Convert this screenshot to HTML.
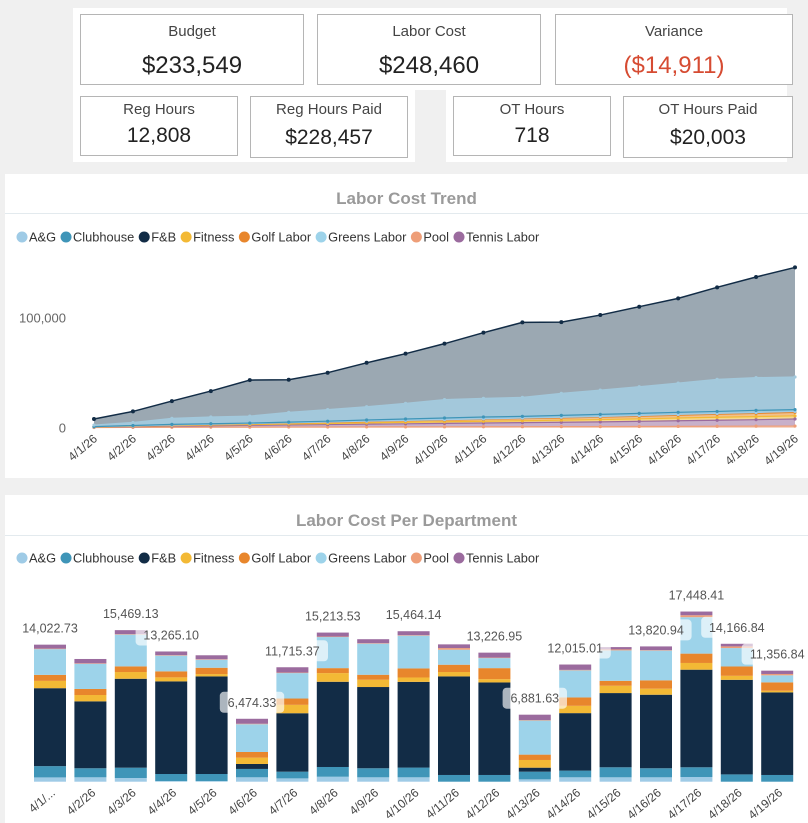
<!DOCTYPE html>
<html><head><meta charset="utf-8"><style>
body{margin:0;width:808px;height:823px;background:#f0f0f0;font-family:"Liberation Sans",sans-serif;overflow:hidden;position:relative}
.wbg{position:absolute;background:#fff}
.card{position:absolute;background:#fff;border:1px solid #b5b5b5;box-sizing:border-box;text-align:center;color:#333}
.card .t{font-size:15px;color:#444;margin-top:8px}
.card .v{font-size:24px;color:#222}
.panel{position:absolute;background:#fff;left:5px;width:803px}
.ptitle{position:absolute;width:100%;text-align:center;font-size:17px;color:#9a9a9a;font-weight:bold}
.sep{position:absolute;left:0;right:0;height:1px;background:#e3eaee}
svg text{font-family:"Liberation Sans",sans-serif}
</style></head><body>
<div class="wbg" style="left:73px;top:8px;width:714px;height:82px"></div>
<div class="wbg" style="left:73px;top:90px;width:342px;height:72px"></div>
<div class="wbg" style="left:446px;top:90px;width:341px;height:72px"></div>
<div class="card" style="left:80px;top:14px;width:224px;height:71px"><div class="t">Budget</div><div class="v" style="margin-top:12px">$233,549</div></div>
<div class="card" style="left:317px;top:14px;width:224px;height:71px"><div class="t">Labor Cost</div><div class="v" style="margin-top:12px">$248,460</div></div>
<div class="card" style="left:555px;top:14px;width:238px;height:71px"><div class="t">Variance</div><div class="v" style="margin-top:12px;color:#d64b32">($14,911)</div></div>
<div class="card" style="left:80px;top:96px;width:158px;height:60px"><div class="t" style="margin-top:4px">Reg Hours</div><div class="v" style="margin-top:6px;font-size:21px">12,808</div></div>
<div class="card" style="left:250px;top:96px;width:158px;height:62px"><div class="t" style="margin-top:4px">Reg Hours Paid</div><div class="v" style="margin-top:8px;font-size:21px">$228,457</div></div>
<div class="card" style="left:453px;top:96px;width:158px;height:60px"><div class="t" style="margin-top:4px">OT Hours</div><div class="v" style="margin-top:6px;font-size:21px">718</div></div>
<div class="card" style="left:623px;top:96px;width:170px;height:62px"><div class="t" style="margin-top:4px">OT Hours Paid</div><div class="v" style="margin-top:8px;font-size:21px">$20,003</div></div>

<div class="panel" style="top:174px;height:304px">
<div class="ptitle" style="top:15px">Labor Cost Trend</div>
<div class="sep" style="top:39px"></div>
</div>
<div class="panel" style="top:495px;height:328px">
<div class="ptitle" style="top:16px">Labor Cost Per Department</div>
<div class="sep" style="top:40px"></div>
</div>
<svg id="chart" width="808" height="823" style="position:absolute;left:0;top:0"></svg>
<script>
const dates=["4/1/26","4/2/26","4/3/26","4/4/26","4/5/26","4/6/26","4/7/26","4/8/26","4/9/26","4/10/26","4/11/26","4/12/26","4/13/26","4/14/26","4/15/26","4/16/26","4/17/26","4/18/26","4/19/26"];
const legendNames=["A&G","Clubhouse","F&B","Fitness","Golf Labor","Greens Labor","Pool","Tennis Labor"];
const trendTicks=[0,100000];
const trendTickLabels=["0","100,000"];
// Trend series (cumulative)
const trPool=[200,300,400,500,550,600,650,700,750,800,850,900,950,1000,1100,1200,1300,1400,1500];
const trTennis=[400,700,1000,1300,1600,1900,2200,2500,2800,3100,3400,3700,4000,4300,4700,5100,5500,5900,6400];
const trFitness=[150,300,450,600,700,850,1000,1200,1400,1500,1600,1700,1900,2100,2300,2500,2700,2800,2900];
const trGolf=[100,250,400,550,700,850,1000,1150,1300,1500,1700,1900,2000,2150,2300,2500,2700,2900,3100];
const trAG=[50,100,150,150,200,250,300,350,400,450,500,550,600,650,700,750,800,850,900];
const trClub=[100,350,600,500,450,650,750,1100,1250,1450,1650,1550,1750,1900,1900,1950,1800,1950,1600];
const trGreens=[1400,2800,5500,6100,6400,8800,10500,12100,14200,16700,17000,17300,20000,22100,24300,26600,29100,29700,29700];
const trFB=[5500,10000,15700,23600,32700,29700,33600,39900,45200,50900,59700,68100,64800,68200,72700,77000,83700,91500,99600];
// Bar series (daily)
const bAG=[440,450,380,70,70,450,340,510,450,450,0,0,240,450,450,450,480,0,0];
const bClub=[1160,930,1060,720,720,860,690,1000,930,1000,690,690,790,690,1030,930,1000,750,690];
const bFB=[8000,6870,9130,9510,10020,510,6000,8750,8340,8800,10120,9500,410,5900,7620,7550,10020,9710,8480];
const bFit=[750,650,690,410,240,650,860,890,750,450,450,340,790,750,750,620,690,410,170];
const bGolf=[620,620,580,620,650,580,650,510,510,930,750,1130,550,860,510,860,960,960,860];
const bGreens=[2640,2580,3260,1610,820,2850,2610,3190,3190,3360,1540,1030,3500,2780,3120,3050,3740,1890,720];
const bPool=[50,50,50,50,50,50,50,50,50,50,170,50,50,50,100,50,200,170,140];
const bTennis=[410,450,410,380,410,510,550,410,410,410,380,510,550,550,240,380,380,270,340];
const barLabels=["14,022.73","","15,469.13","13,265.10","","6,474.33","11,715.37","15,213.53","","15,464.14","","13,226.95","6,881.63","12,015.01","","13,820.94","17,448.41","14,166.84","11,356.84"];
const lblBox=[0,0,0,1,0,1,1,0,0,0,0,0,1,1,0,1,1,1,1];

const colors=["#9fcbe6","#3f95b8","#122c46","#f3b935","#e8862c","#9dd3ea","#ee9e78","#9b6b9e"];
const svg=document.getElementById('chart');const NS="http://www.w3.org/2000/svg";
function mk(tag,attrs,parent){const e=document.createElementNS(NS,tag);for(const k in attrs)e.setAttribute(k,attrs[k]);(parent||svg).appendChild(e);return e;}

function legend(y){
  let x=22;
  legendNames.forEach((n,i)=>{
    const g=mk('g',{});
    
    
    mk('circle',{cx:x,cy:y,r:5.5,fill:colors[i]},g);
    const t=mk('text',{x:x+7,y:y+4.5,'font-size':12.8,fill:'#333'},g);t.textContent=n;
    x+=7+t.getComputedTextLength()+10;
  });
}
legend(237);legend(558);

// Trend chart
const tx=i=>94+i*(795-94)/(dates.length-1);
const ty=v=>427.7-v*0.0011;
trendTicks.forEach((v,i)=>{
  const t=mk('text',{x:66,y:ty(v)+5,'text-anchor':'end','font-size':13,fill:'#666'});
  
  
  t.textContent=trendTickLabels[i];
});
const trOrder=[trPool,trTennis,trFitness,trGolf,trAG,trClub,trGreens,trFB];
const trColors=["#ee9e78","#9b6b9e","#f3b935","#e8862c","#9fcbe6","#3f95b8","#a3c9dc","#122c46"];
const trFill=["#f4c9b3","#c8b0ca","#f6d98e","#f1c08c","#c7e1f0","#9cc6d8","#a3c8db","#9ba8b2"];
const trNames=["trend-pool","trend-tennis","trend-fitness","trend-golf","trend-ag","trend-clubhouse","trend-greens","trend-fb"];
let base=dates.map(()=>0);
const tops=[];
trOrder.forEach(s=>{const top=base.map((b,i)=>b+s[i]);tops.push({b:base,t:top});base=top;});
for(let k=trOrder.length-1;k>=0;k--){
  const {b,t}=tops[k];
  let d="M"+dates.map((_,i)=>tx(i)+","+ty(t[i])).join(" L")+" L"+dates.map((_,i)=>tx(dates.length-1-i)+","+ty(b[dates.length-1-i])).join(" L")+"Z";
  const a=mk('path',{d:d,fill:trFill[k]});
  
  
}
for(let k=0;k<trOrder.length;k++){
  const t=tops[k].t;
  const l=mk('polyline',{points:dates.map((_,i)=>tx(i)+","+ty(t[i])).join(" "),fill:'none',stroke:trColors[k],'stroke-width':k==7?1.5:1.2});
  
  
  dates.forEach((_,i)=>{const c=mk('circle',{cx:tx(i),cy:ty(t[i]),r:k==7?2:1.6,fill:trColors[k]});
    
    });
}
dates.forEach((d,i)=>{
  const t=mk('text',{x:tx(i)+4,y:440,'text-anchor':'end','font-size':12,fill:'#444',transform:`rotate(-40 ${tx(i)+4} 440)`});
  
  
  t.textContent=d;
});

// Bar chart
const bx=i=>50+i*40.4;
const by=v=>781.7-v*0.00974;
const bw=32;
const bSeries=[bAG,bClub,bFB,bFit,bGolf,bGreens,bPool,bTennis];
const bNames=["ag","clubhouse","fb","fitness","golf","greens","pool","tennis"];
const labelLayer=[];
dates.forEach((d,i)=>{
  let cum=0;
  bSeries.forEach((s,k)=>{
    const v=s[i];if(v<=0)return;
    const r=mk('rect',{x:bx(i)-bw/2,y:by(cum+v),width:bw,height:by(cum)-by(cum+v),fill:colors[k]});
    
    
    cum+=v;
  });
  if(barLabels[i]) labelLayer.push([i,cum]);
  const xl=mk('text',{x:bx(i)+6,y:794,'text-anchor':'end','font-size':12,fill:'#444',transform:`rotate(-40 ${bx(i)+6} 794)`});
  
  
  xl.textContent=i==0?"4/1/...":d;
});
labelLayer.forEach(([i,cum])=>{
  const cx=bx(i), cy=by(cum)-12;
  if(lblBox[i]){
    const w=barLabels[i].length*6.8+10;
    const b=mk('rect',{x:cx-w/2,y:cy-15,width:w,height:21,rx:4,fill:'#ffffff','fill-opacity':0.65});
    
    
  }
  const t=mk('text',{x:cx,y:cy,'text-anchor':'middle','font-size':12.5,fill:'#555'});
  
  
  t.textContent=barLabels[i];
});
</script>
</body></html>
